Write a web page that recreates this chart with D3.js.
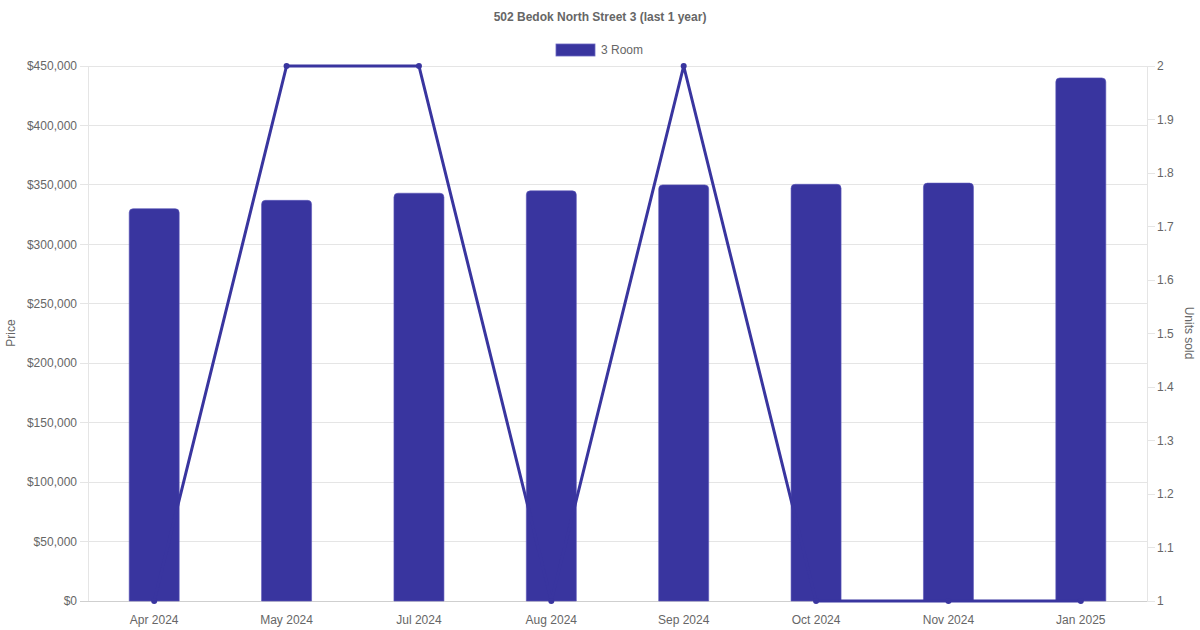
<!DOCTYPE html>
<html><head><meta charset="utf-8">
<script src="https://cdn.jsdelivr.net/npm/d3@7/dist/d3.min.js"></script>
<style>body{margin:0;background:#fff;}svg{display:block;font-family:"Liberation Sans",Arial,sans-serif;}</style>
</head><body>
<svg id="c" width="1200" height="630"></svg>
<script>
const title = "502 Bedok North Street 3 (last 1 year)";
const seriesName = "3 Room";
const categories = ["Apr 2024","May 2024","Jul 2024","Aug 2024","Sep 2024","Oct 2024","Nov 2024","Jan 2025"];
const prices = [330000, 337000, 343000, 345000, 350000, 350500, 351500, 440000];
const unitsSold = [1, 2, 2, 1, 2, 1, 1, 1];
const priceTicks = [0,50000,100000,150000,200000,250000,300000,350000,400000,450000];
const unitTicks = [1,1.1,1.2,1.3,1.4,1.5,1.6,1.7,1.8,1.9,2];

const color = "#39359f";
const svg = d3.select("#c");
const L = 88, R = 1147, T = 66, B = 601;
const x = d3.scaleBand().domain(categories).range([L, R]);
const yP = d3.scaleLinear().domain([0, 450000]).range([B, T]);
const yU = d3.scaleLinear().domain([1, 2]).range([B, T]);

// grid
svg.append("g").selectAll("line").data(priceTicks).join("line")
  .attr("x1", L - 8).attr("x2", R).attr("y1", d => yP(d)).attr("y2", d => yP(d))
  .attr("stroke", d => d === 0 ? "#cfcfcf" : "#e5e5e5").attr("stroke-width", 1).attr("shape-rendering","crispEdges");
svg.append("g").selectAll("line").data(unitTicks).join("line")
  .attr("x1", R).attr("x2", R + 8).attr("y1", d => yU(d)).attr("y2", d => yU(d))
  .attr("stroke", "#e5e5e5").attr("shape-rendering","crispEdges");
svg.append("line").attr("x1", L).attr("x2", L).attr("y1", T).attr("y2", B).attr("stroke","#e5e5e5").attr("shape-rendering","crispEdges");
svg.append("line").attr("x1", R).attr("x2", R).attr("y1", T).attr("y2", B).attr("stroke","#e5e5e5").attr("shape-rendering","crispEdges");

// tick labels
const fmt = d => "$" + d3.format(",")(d);
svg.append("g").selectAll("text").data(priceTicks).join("text")
  .attr("x", 77).attr("y", d => yP(d)).attr("dy","0.35em").attr("text-anchor","end")
  .attr("font-size",12).attr("fill","#666").text(fmt);
svg.append("g").selectAll("text").data(unitTicks).join("text")
  .attr("x", 1157).attr("y", d => yU(d)).attr("dy","0.35em").attr("text-anchor","start")
  .attr("font-size",12).attr("fill","#666").text(d => d3.format("~g")(d));
svg.append("g").selectAll("text").data(categories).join("text")
  .attr("x", d => x(d) + x.bandwidth()/2).attr("y", 624).attr("text-anchor","middle")
  .attr("font-size",12).attr("fill","#666").text(d => d);

// axis titles
svg.append("text").attr("transform","translate(15,333) rotate(-90)").attr("text-anchor","middle")
  .attr("font-size",12).attr("fill","#666").text("Price");
svg.append("text").attr("transform","translate(1185,333) rotate(90)").attr("text-anchor","middle")
  .attr("font-size",12).attr("fill","#666").text("Units sold");

// title & legend
svg.append("text").attr("x",600).attr("y",21).attr("text-anchor","middle").attr("font-size",12)
  .attr("font-weight","bold").attr("fill","#666").text(title);
svg.append("rect").attr("x",556).attr("y",44).attr("width",39).attr("height",12).attr("fill",color)
  .attr("stroke","#6a66c0").attr("stroke-width",0.8);
svg.append("text").attr("x",601).attr("y",54).attr("font-size",12).attr("fill","#666").text(seriesName);

// bars with rounded top
const bw = 50, r = 4;
svg.append("g").selectAll("path").data(categories).join("path")
  .attr("d", (d,i) => {
    const cx = x(d) + x.bandwidth()/2, x0 = cx - bw/2, x1 = cx + bw/2, y0 = yP(prices[i]), yb = B;
    return `M${x0},${yb}V${y0+r}Q${x0},${y0} ${x0+r},${y0}H${x1-r}Q${x1},${y0} ${x1},${y0+r}V${yb}Z`;
  })
  .attr("fill", color).attr("stroke","#5a56b8").attr("stroke-width",0.6);

// line
const pts = categories.map((c,i) => [x(c) + x.bandwidth()/2, yU(unitsSold[i])]);
svg.append("path").attr("d", d3.line()(pts)).attr("fill","none").attr("stroke",color).attr("stroke-width",3);
svg.append("g").selectAll("circle").data(pts).join("circle")
  .attr("cx", d => d[0]).attr("cy", d => d[1]).attr("r",3).attr("fill",color);
</script>
</body></html>
